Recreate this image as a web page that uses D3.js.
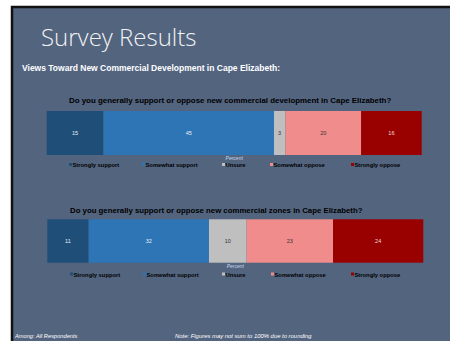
<!DOCTYPE html>
<html>
<head>
<meta charset="utf-8">
<script src="https://cdn.jsdelivr.net/npm/d3@7"></script>
<style>
  body { margin: 0; background: #fff; }
  svg { display: block; }
</style>
</head>
<body>
<div id="chart"></div>
<script>
const categories = ['Strongly support', 'Somewhat support', 'Unsure', 'Somewhat oppose', 'Strongly oppose'];
const colors = ['#1f4e79', '#2e75b6', '#bfbfbf', '#f08c8c', '#990000'];
const labelColors = ['#e8eef5', '#e8eef5', '#333', '#333', '#f3dede'];

const devValues = [15, 45, 3, 20, 16];
const zoneValues = [11, 32, 10, 23, 24];

const questions = [
  'Do you generally support or oppose new commercial development in Cape Elizabeth?',
  'Do you generally support or oppose new commercial zones in Cape Elizabeth?'
];

const width = 450;
const height = 341;

const svg = d3.select('#chart').append('svg')
  .attr('width', width)
  .attr('height', height);

// slide background + frame
svg.append('rect')
  .attr('x', 11).attr('y', 6)
  .attr('width', width - 11).attr('height', height - 6)
  .attr('fill', '#53647f');
svg.append('path')
  .attr('d', `M12,${height} V7 H${width}`)
  .attr('fill', 'none')
  .attr('stroke', '#111')
  .attr('stroke-width', 2.5);

svg.append('text')
  .attr('x', 41).attr('y', 46)
  .attr('font-family', 'Open Sans')
  .attr('font-weight', 300)
  .attr('font-size', 24)
  .attr('fill', '#f2f2f2')
  .text('Survey Results');

svg.append('text')
  .attr('x', 22).attr('y', 71)
  .attr('font-family', 'Liberation Sans, Arial')
  .attr('font-weight', 'bold')
  .attr('font-size', 8.5)
  .attr('fill', '#fff')
  .text('Views Toward New Commercial Development in Cape Elizabeth:');

function drawChart(values, question, cfg) {
  const g = svg.append('g');
  const total = d3.sum(values);
  const x = d3.scaleLinear().domain([0, total]).range([cfg.x0, cfg.x1]);
  const starts = d3.cumsum(values).map((c, i) => c - values[i]);

  g.append('text')
    .attr('x', cfg.titleX).attr('y', cfg.titleY)
    .attr('font-family', 'Liberation Sans, Arial')
    .attr('font-weight', 'bold')
    .attr('font-size', cfg.titleSize)
    .attr('fill', '#000')
    .text(question);

  g.selectAll('rect.seg')
    .data(values)
    .join('rect')
    .attr('class', 'seg')
    .attr('x', (d, i) => x(starts[i]))
    .attr('y', cfg.y)
    .attr('width', (d, i) => x(starts[i] + d) - x(starts[i]))
    .attr('height', cfg.h)
    .attr('fill', (d, i) => colors[i]);

  g.selectAll('text.val')
    .data(values)
    .join('text')
    .attr('class', 'val')
    .attr('x', (d, i) => x(starts[i] + d / 2))
    .attr('y', cfg.y + cfg.h / 2 + 2)
    .attr('text-anchor', 'middle')
    .attr('font-family', 'Liberation Sans, Arial')
    .attr('font-size', 5.5)
    .attr('fill', (d, i) => labelColors[i])
    .text(d => d);

  g.append('text')
    .attr('x', (cfg.x0 + cfg.x1) / 2)
    .attr('y', cfg.y + cfg.h + 5)
    .attr('text-anchor', 'middle')
    .attr('font-family', 'Liberation Sans, Arial')
    .attr('font-style', 'italic')
    .attr('font-size', 5)
    .attr('fill', '#c8d8ee')
    .text('Percent');

  const legend = g.selectAll('g.leg')
    .data(categories)
    .join('g')
    .attr('class', 'leg')
    .attr('transform', (d, i) => `translate(${cfg.legX[i]},${cfg.legY})`);
  legend.append('rect')
    .attr('x', 0).attr('y', -2.5)
    .attr('width', 3).attr('height', 3)
    .attr('fill', (d, i) => colors[i]);
  legend.append('text')
    .attr('x', 3.5).attr('y', 1.6)
    .attr('font-family', 'Liberation Sans, Arial')
    .attr('font-weight', 'bold')
    .attr('font-size', 5.8)
    .attr('fill', '#000')
    .text(d => d);
}

drawChart(devValues, questions[0], {
  x0: 46.7, x1: 421.7, y: 111, h: 44,
  titleX: 69, titleY: 102.5, titleSize: 7.9,
  legX: [69, 142, 222, 270, 351], legY: 165.5
});

drawChart(zoneValues, questions[1], {
  x0: 47.3, x1: 423.3, y: 219.3, h: 43.4,
  titleX: 70, titleY: 212.5, titleSize: 7.8,
  legX: [70, 143, 222, 271, 351], legY: 275
});

svg.append('text')
  .attr('x', 15).attr('y', 338)
  .attr('font-family', 'Liberation Sans, Arial')
  .attr('font-style', 'italic')
  .attr('font-size', 5.7)
  .attr('fill', '#fff')
  .text('Among: All Respondents');

svg.append('text')
  .attr('x', 175).attr('y', 338)
  .attr('font-family', 'Liberation Sans, Arial')
  .attr('font-style', 'italic')
  .attr('font-size', 5.9)
  .attr('fill', '#fff')
  .text('Note: Figures may not sum to 100% due to rounding');
</script>
</body>
</html>
